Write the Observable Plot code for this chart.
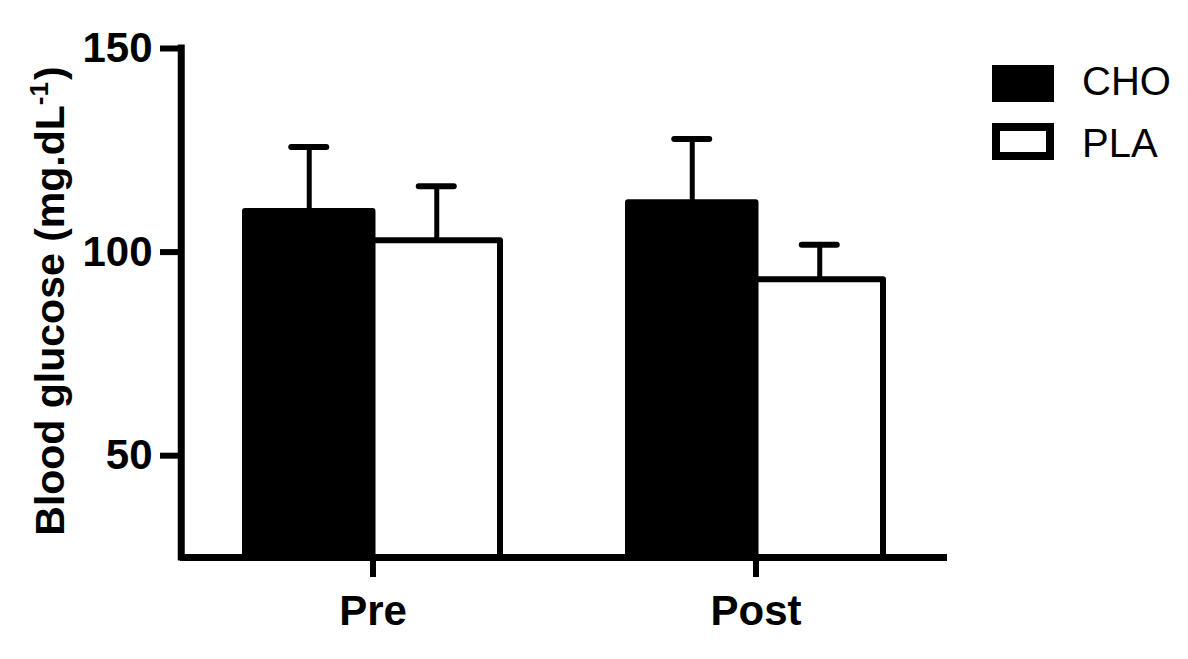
<!DOCTYPE html>
<html><head><meta charset="utf-8">
<script src="https://cdn.jsdelivr.net/npm/d3@7"></script>
<script src="https://cdn.jsdelivr.net/npm/@observablehq/plot@0.6"></script>
<style>
body{margin:0;background:#fff;}
#wrap{position:relative;width:1188px;height:659px;font-family:"Liberation Sans",Arial,Helvetica,sans-serif;color:#000;}
.sw{position:absolute;left:992px;width:62px;height:37px;box-sizing:border-box;}
.lt{position:absolute;left:1082px;font-size:40px;line-height:40px;white-space:nowrap;}
</style></head><body><div id="wrap"></div>
<script>
// ---- data ----
const times = ["Pre", "Post"];
const treatments = ["CHO", "PLA"];
const choMean = [110.0, 112.1];
const choErr = [15.8, 15.7];
const plaMean = [102.8, 93.2];
const plaErr = [13.4, 8.6];
const yTicks = [50, 100, 150];
const yLabelMain = "Blood glucose (mg.dL";
const yLabelSup = "-1";
const yLabelEnd = ")";
const yMin = 25, yMax = 150;

const rows = [];
times.forEach((t, i) => {
  rows.push({time: t, treatment: "CHO", mean: choMean[i], upper: choMean[i] + choErr[i]});
  rows.push({time: t, treatment: "PLA", mean: plaMean[i], upper: plaMean[i] + plaErr[i]});
});
const cho = rows.filter(d => d.treatment === "CHO");
const pla = rows.filter(d => d.treatment === "PLA");

// ---- layout ----
const W = 1188, H = 659, mL = 180, mR = 241, mT = 48, mB = 102;
const xOpts = {type: "band", domain: times, paddingInner: 0.335, paddingOuter: 0.1675};
const xs = Plot.scale({x: {...xOpts, range: [mL, W - mR]}});
const bw = xs.bandwidth;
const capHalf = 17.5;
const font = '"Liberation Sans", Arial, Helvetica, sans-serif';
const fullLabel = yLabelMain + yLabelSup + yLabelEnd;

const chart = Plot.plot({
  width: W, height: H,
  marginLeft: mL, marginRight: mR, marginTop: mT, marginBottom: mB,
  style: {fontFamily: font, color: "black", background: "transparent"},
  x: {...xOpts, label: null, axis: null},
  y: {domain: [yMin, yMax], label: null, axis: null},
  marks: [
    // error bars
    Plot.ruleX(cho, {x: "time", y1: "mean", y2: "upper", dx: -bw / 4, stroke: "black", strokeWidth: 5}),
    Plot.ruleX(pla, {x: "time", y1: "mean", y2: "upper", dx: bw / 4, stroke: "black", strokeWidth: 5}),
    Plot.tickY(cho, {x: "time", y: "upper", insetLeft: bw / 4 - capHalf, insetRight: 3 * bw / 4 - capHalf, stroke: "black", strokeWidth: 6, strokeLinecap: "round"}),
    Plot.tickY(pla, {x: "time", y: "upper", insetLeft: 3 * bw / 4 - capHalf, insetRight: bw / 4 - capHalf, stroke: "black", strokeWidth: 6, strokeLinecap: "round"}),
    // bars
    Plot.barY(cho, {x: "time", y1: yMin, y2: "mean", insetRight: bw / 2, fill: "black", stroke: "black", strokeWidth: 6, strokeLinejoin: "round"}),
    Plot.barY(pla, {x: "time", y1: yMin, y2: "mean", insetLeft: bw / 2, fill: "white", stroke: "black", strokeWidth: 6, strokeLinejoin: "round"}),
    // axis lines
    Plot.ruleY([yMin], {stroke: "black", strokeWidth: 7}),
    Plot.ruleX([times[0]], {x: d => d, dx: mL - (xs.apply(times[0]) + bw / 2), y1: yMin, y2: yMax, stroke: "black", strokeWidth: 7, strokeLinecap: "square"}),
    // axes
    Plot.axisY(yTicks, {tickSize: 20, tickPadding: 8, fontSize: 42, fontWeight: "bold", strokeWidth: 6, label: null}),
    Plot.axisX({tickSize: 20, tickPadding: 18, fontSize: 42, fontWeight: "bold", strokeWidth: 6, label: null}),
    // y label
    Plot.text([fullLabel], {text: d => d, frameAnchor: "left", rotate: -90, dx: -130, dy: -2, fontSize: 41, fontWeight: "bold", textAnchor: "middle", lineAnchor: "middle", fill: "black", className: "ylab"})
  ]
});

// superscript for the unit
d3.select(chart).selectAll("text").filter(function() { return this.textContent === fullLabel; }).each(function() {
  const t = d3.select(this);
  t.text(null);
  t.append("tspan").text(yLabelMain);
  t.append("tspan").attr("font-size", 26).attr("dy", "-0.6em").text(yLabelSup);
  t.append("tspan").attr("dy", "0.6em").attr("font-size", 26).text("\u200A");
  t.append("tspan").text(yLabelEnd);
});

const wrap = document.getElementById("wrap");
wrap.appendChild(chart);
chart.style.position = "absolute";
chart.style.left = "0px";
chart.style.top = "0px";

// legend
const legTops = [61, 123];
const swTops = [65, 123];
treatments.forEach((t, i) => {
  const sw = document.createElement("div");
  sw.className = "sw";
  sw.style.top = swTops[i] + "px";
  if (i === 0) sw.style.background = "black";
  else { sw.style.background = "white"; sw.style.border = "8px solid black"; }
  wrap.appendChild(sw);
  const lt = document.createElement("div");
  lt.className = "lt";
  lt.style.top = legTops[i] + "px";
  lt.textContent = t;
  wrap.appendChild(lt);
});
</script>
</body></html>
